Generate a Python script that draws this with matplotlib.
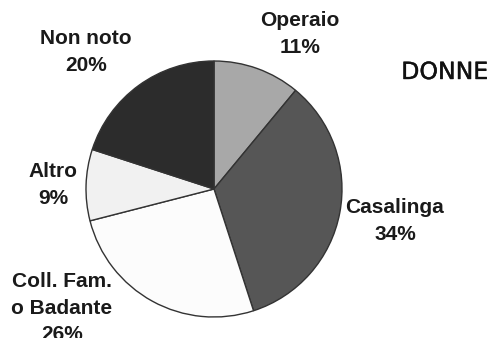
import matplotlib
matplotlib.use("Agg")
import matplotlib.pyplot as plt
import matplotlib.patheffects as pe

# occupation breakdown, clockwise from the top
categories = ["Operaio", "Casalinga", "Coll. Fam.\no Badante", "Altro", "Non noto"]
shares = [11, 34, 26, 9, 20]
colors = ["#a8a8a8", "#565656", "#fcfcfc", "#f1f1f1", "#2c2c2c"]
title = "DONNE"

W, H = 492, 338
fig = plt.figure(figsize=(W / 100, H / 100), dpi=100)
ax = fig.add_axes([0, 0, 1, 1])

# pie drawn in pixel-like data units (y measured from the bottom)
cx, cy, r = 214, H - 189, 128
wedges, _ = ax.pie(shares, colors=colors, startangle=90, counterclock=False,
                   center=(cx, cy), radius=r, frame=True,
                   wedgeprops=dict(edgecolor="#333333", linewidth=1.0))
ax.set_xlim(0, W)
ax.set_ylim(0, H)
ax.set_aspect("equal")
ax.axis("off")

# label anchor points (centre of the text block, top-down pixels)
label_pos = [(300, 34), (395, 221), (62, 308), (53, 185), (86, 52)]
for name, v, (x, y) in zip(categories, shares, label_pos):
    ax.text(x, H - y, f"{name}\n{v}%", ha="center", va="center",
            fontsize=15, fontweight="bold", family="Liberation Sans",
            color="#1a1a1a", linespacing=1.5)

ax.text(445, H - 72, title, ha="center", va="center", fontsize=17,
        family="DejaVu Sans", color="#111111",
        path_effects=[pe.withStroke(linewidth=0.3, foreground="#111111")])

fig.savefig("out.png", dpi=100)
